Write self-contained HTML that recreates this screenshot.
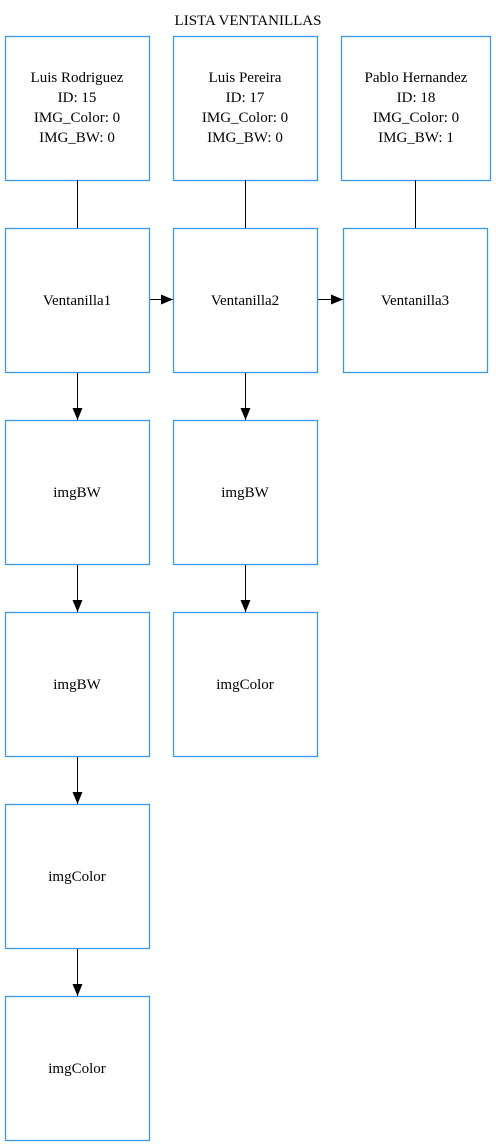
<!DOCTYPE html>
<html><head><style>html,body{margin:0;padding:0;background:#fff}svg{display:block}</style></head>
<body>
<svg width="496" height="1145" xmlns="http://www.w3.org/2000/svg" font-family="Liberation Serif, serif" font-size="15" text-anchor="middle">
<defs><marker id="a" markerWidth="12" markerHeight="10" refX="12" refY="5" orient="auto" markerUnits="userSpaceOnUse"><path d="M0,0 L12,5 L0,10 z" fill="#000"/></marker></defs>
<text x="248" y="25">LISTA VENTANILLAS</text>
<g fill="none" stroke="#3d98f0" stroke-width="1.3">
<rect x="5.5" y="36.5" width="144" height="144"/>
<rect x="173.5" y="36.5" width="144" height="144"/>
<rect x="341.5" y="36.5" width="149" height="144"/>
<rect x="5.5" y="228.5" width="144" height="144"/>
<rect x="173.5" y="228.5" width="144" height="144"/>
<rect x="343.5" y="228.5" width="144" height="144"/>
<rect x="5.5" y="420.5" width="144" height="144"/>
<rect x="173.5" y="420.5" width="144" height="144"/>
<rect x="5.5" y="612.5" width="144" height="144"/>
<rect x="173.5" y="612.5" width="144" height="144"/>
<rect x="5.5" y="804.5" width="144" height="144"/>
<rect x="5.5" y="996.5" width="144" height="144"/>
</g>
<g stroke="#000" stroke-width="1">
<line x1="77.5" y1="180" x2="77.5" y2="228"/>
<line x1="245.5" y1="180" x2="245.5" y2="228"/>
<line x1="415.5" y1="180" x2="415.5" y2="228"/>
<line x1="150" y1="299.5" x2="173" y2="299.5" marker-end="url(#a)"/>
<line x1="318" y1="299.5" x2="343" y2="299.5" marker-end="url(#a)"/>
<line x1="77.5" y1="373" x2="77.5" y2="420" marker-end="url(#a)"/>
<line x1="245.5" y1="373" x2="245.5" y2="420" marker-end="url(#a)"/>
<line x1="77.5" y1="565" x2="77.5" y2="612" marker-end="url(#a)"/>
<line x1="245.5" y1="565" x2="245.5" y2="612" marker-end="url(#a)"/>
<line x1="77.5" y1="757" x2="77.5" y2="804" marker-end="url(#a)"/>
<line x1="77.5" y1="949" x2="77.5" y2="996" marker-end="url(#a)"/>
</g>
<text x="77" y="82">Luis Rodriguez</text><text x="77" y="102">ID: 15</text><text x="77" y="122">IMG_Color: 0</text><text x="77" y="142">IMG_BW: 0</text>
<text x="245" y="82">Luis Pereira</text><text x="245" y="102">ID: 17</text><text x="245" y="122">IMG_Color: 0</text><text x="245" y="142">IMG_BW: 0</text>
<text x="416" y="82">Pablo Hernandez</text><text x="416" y="102">ID: 18</text><text x="416" y="122">IMG_Color: 0</text><text x="416" y="142">IMG_BW: 1</text>
<text x="77" y="305">Ventanilla1</text><text x="245" y="305">Ventanilla2</text><text x="415" y="305">Ventanilla3</text>
<text x="77" y="497">imgBW</text><text x="245" y="497">imgBW</text>
<text x="77" y="689">imgBW</text><text x="245" y="689">imgColor</text>
<text x="77" y="881">imgColor</text><text x="77" y="1073">imgColor</text>
</svg>
</body></html>
